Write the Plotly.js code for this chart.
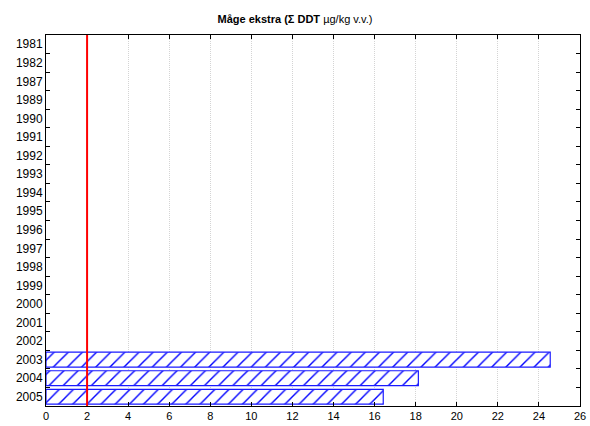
<!DOCTYPE html>
<html>
<head>
<meta charset="utf-8">
<script src="https://cdn.plot.ly/plotly-3.0.1.min.js"></script>
<style>html,body{margin:0;padding:0;background:#fff;}</style>
</head>
<body>
<div id="chart" style="width:590px;height:426px;"></div>
<script>
const years = ["1981","1982","1987","1989","1990","1991","1992","1993","1994","1995","1996","1997","1998","1999","2000","2001","2002","2003","2004","2005"];
const values = [null,null,null,null,null,null,null,null,null,null,null,null,null,null,null,null,null,24.55,18.13,16.42];
const xTicks = [0,2,4,6,8,10,12,14,16,18,20,22,24,26];
const threshold = 2;

const trace = {
  type: 'bar',
  orientation: 'h',
  y: years,
  x: values,
  marker: {
    color: '#ffffff',
    line: {color: '#1a1aff', width: 1.2},
    pattern: {shape: '/', fgcolor: '#0000ff', bgcolor: '#ffffff', size: 10, solidity: 0.14}
  },
  hoverinfo: 'none'
};

const layout = {
  width: 590, height: 426,
  margin: {l: 46, r: 10, t: 35, b: 20},
  paper_bgcolor: '#fff', plot_bgcolor: '#fff',
  showlegend: false,
  bargap: 0.2,
  font: {family: 'Liberation Sans, Arial, sans-serif', color: '#000', size: 12},
  title: {
    text: '<b>Måge ekstra (Σ DDT</b> µg/kg v.v.)',
    font: {size: 11, family: 'Liberation Sans, Arial, sans-serif'},
    x: 0.5, xanchor: 'center', y: 1 - 19/426, yanchor: 'middle'
  },
  xaxis: {
    range: [0, 26],
    tickvals: xTicks,
    ticktext: xTicks.map(String),
    ticks: 'inside', ticklen: 4, tickcolor: '#000',
    showgrid: true, gridcolor: '#d4d4d4', griddash: '1px,1px', gridwidth: 1,
    showline: true, linecolor: '#000', linewidth: 1, mirror: 'allticks',
    zeroline: false,
    tickfont: {size: 11}
  },
  yaxis: {
    type: 'category',
    categoryorder: 'array', categoryarray: years,
    autorange: 'reversed',
    tickson: 'boundaries',
    ticks: 'inside', ticklen: 4, tickcolor: '#000',
    showgrid: false,
    showline: true, linecolor: '#000', linewidth: 1, mirror: 'allticks',
    zeroline: false,
    tickfont: {size: 12}
  },
  shapes: [{
    type: 'line', xref: 'x', yref: 'paper',
    x0: threshold, x1: threshold, y0: 0, y1: 1,
    line: {color: '#ff0000', width: 2}
  }]
};

Plotly.newPlot('chart', [trace], layout, {staticPlot: true});
</script>
</body>
</html>
